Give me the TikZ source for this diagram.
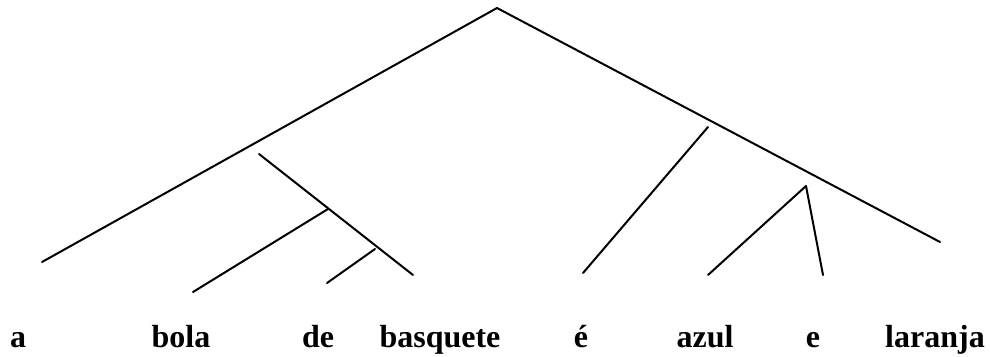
\documentclass[tikz,border=0pt]{standalone}
\usepackage{fontspec}
\setmainfont{Liberation Serif}
\tikzset{word/.style={anchor=base,inner sep=0pt,font=\fontsize{32}{38}\selectfont\bfseries}, branch/.style={line width=2pt,line cap=round}}
\begin{document}
\begin{tikzpicture}[x=1pt,y=-1pt]
    \useasboundingbox (0,0) rectangle (990,356);
    \node[word] (a) at (18,347) {a}; \node[word] (bola) at (181,347) {bola}; \node[word] (de) at (318,347) {de}; \node[word] (basquete) at (440,347) {basquete};
    \node[word] (e1) at (581,347) {é}; \node[word] (azul) at (705,347) {azul}; \node[word] (e2) at (813,347) {e}; \node[word] (laranja) at (935,347) {laranja};

    \coordinate (root) at (497,8); \coordinate (aend) at (42,262); \coordinate (rend) at (940,242);
    \coordinate (np) at (259,154); \coordinate (npend) at (413,275); \coordinate (nb) at (328,209); \coordinate (bolaend) at (193,292); \coordinate (pp) at (375,249); \coordinate (deend) at (327,283);
    \coordinate (vp) at (708,127); \coordinate (eend) at (583,273); \coordinate (co) at (806,186); \coordinate (azulend) at (708,275); \coordinate (e2end) at (823,275);

    \draw[branch] (aend) to (root); \draw[branch] (root) to (rend);
    \draw[branch] (np) to (npend); \draw[branch] (nb) to (bolaend); \draw[branch] (pp) to (deend);
    \draw[branch] (vp) to (eend); \draw[branch] (azulend) to (co); \draw[branch] (co) to (e2end);
\end{tikzpicture}
\end{document}
